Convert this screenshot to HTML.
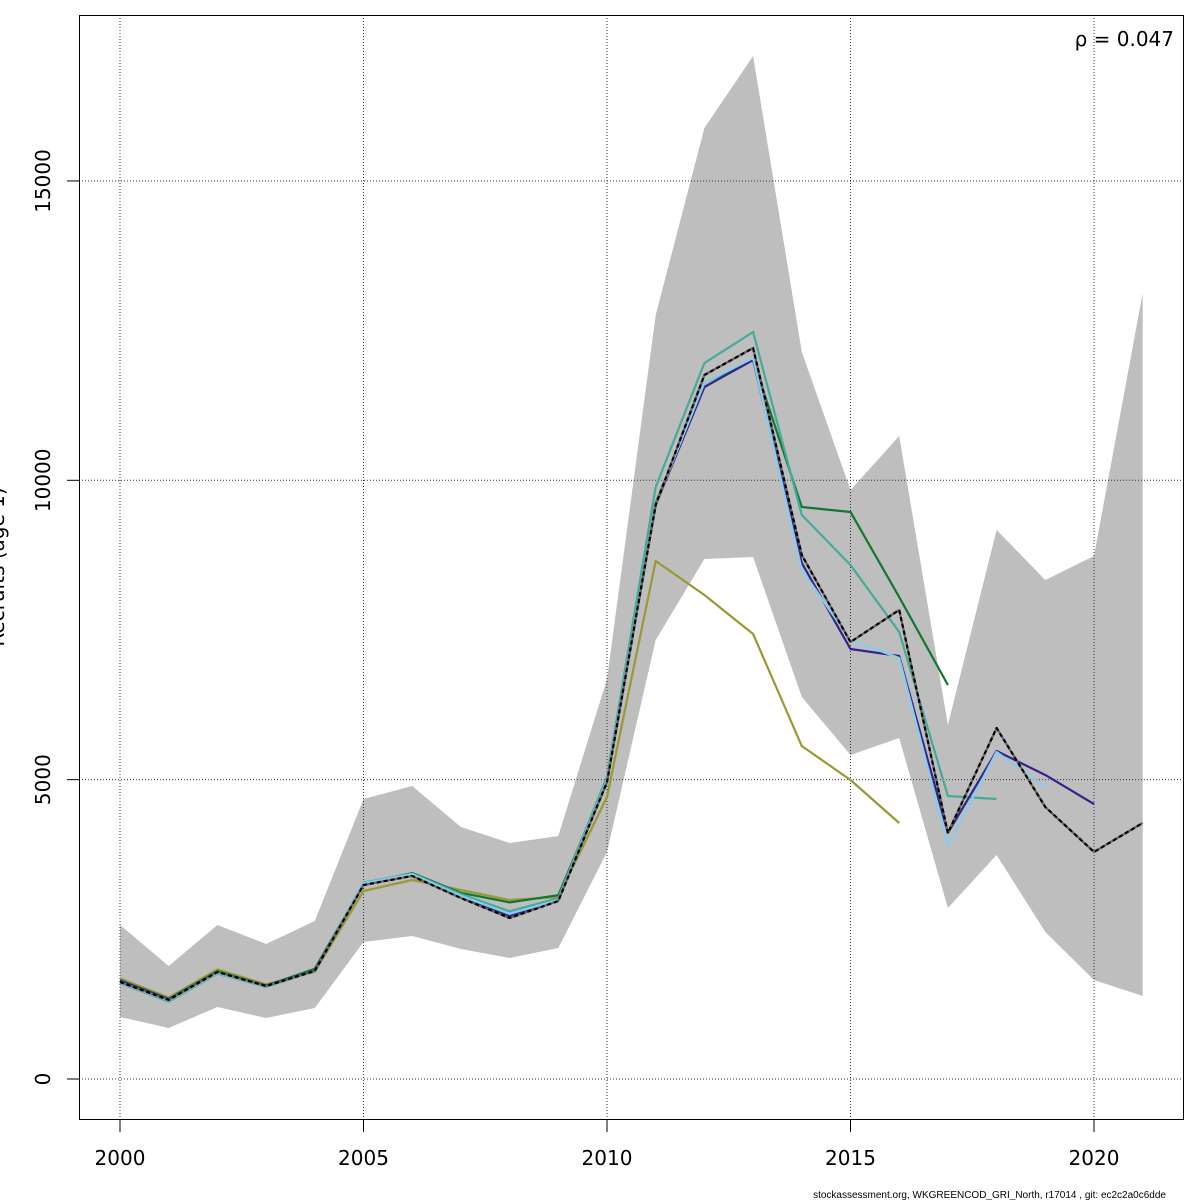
<!DOCTYPE html>
<html><head><meta charset="utf-8"><style>
html,body{margin:0;padding:0;background:#fff;}
svg{display:block;font-family:"DejaVu Sans","Liberation Sans",sans-serif;}
</style></head><body>
<svg id="chart" width="1200" height="1200" viewBox="0 0 1200 1200">
<rect x="0" y="0" width="1200" height="1200" fill="#fff"/>
<g id="band-g"></g><g id="grid-g"></g><g id="lines-g"></g><g id="axes-g"></g>
<rect x="79.5" y="15.5" width="1104" height="1104" fill="none" stroke="#000" stroke-width="1"/>
<text x="1174" y="46" text-anchor="end" font-size="20">ρ = 0.047</text>
<text transform="translate(4,567) rotate(-90)" text-anchor="middle" font-size="20">Recruits (age 1)</text>
<text x="612" y="1216" text-anchor="middle" font-size="20">Year</text>
<text x="1166" y="1198" text-anchor="end" font-size="10" font-family="Liberation Sans, sans-serif">stockassessment.org, WKGREENCOD_GRI_North, r17014 , git: ec2c2a0c6dde</text>
</svg>
<script>
const years = [2000,2001,2002,2003,2004,2005,2006,2007,2008,2009,2010,2011,2012,2013,2014,2015,2016,2017,2018,2019,2020,2021];
const bandHigh = [2572,1887,2572,2255,2639,4677,4894,4209,3942,4059,6681,12761,15884,17086,12143,9838,10740,5913,9170,8335,8736,13128];
const bandLow = [1036,852,1203,1019,1186,2288,2389,2171,2021,2188,3792,7333,8685,8719,6380,5412,5696,2856,3741,2455,1654,1386];
const run2021 = [1620,1320,1787,1553,1804,3240,3391,3023,2689,2973,4961,9587,11759,12210,8752,7299,7834,4109,5863,4543,3792,4276];
const run2020 = [1640,1330,1780,1560,1810,3250,3400,3030,2720,2990,4960,9590,11558,12009,8619,7182,7065,4109,5478,5078,4593];
const run2019 = [1610,1310,1770,1550,1800,3270,3420,3060,2760,2990,4990,9600,11625,12042,8502,7332,7032,3908,5462,4877];
const run2018 = [1600,1290,1760,1540,1800,3280,3430,3090,2800,3020,5050,9888,11959,12477,9420,8585,7466,4727,4677];
const run2017 = [1650,1340,1800,1560,1840,3260,3440,3110,2950,3070,5000,9620,11625,12009,9554,9471,8050,6581];
const run2016 = [1680,1360,1830,1580,1790,3140,3324,3157,2990,3040,4710,8652,8084,7433,5562,4994,4276];
const yTicks = [0,5000,10000,15000];
const xTicks = [2000,2005,2010,2015,2020];
const NS="http://www.w3.org/2000/svg";
function X(yr){return 120+(yr-2000)*48.7;}
function Y(v){return 1079-v*0.05987;}
function mk(tag,attrs,parent){const e=document.createElementNS(NS,tag);for(const k in attrs)e.setAttribute(k,attrs[k]);parent.appendChild(e);return e;}
const bandG=document.getElementById('band-g'),gridG=document.getElementById('grid-g'),linesG=document.getElementById('lines-g'),axesG=document.getElementById('axes-g');
let pts=years.map((y,i)=>X(y)+','+Y(bandHigh[i]));
for(let i=years.length-1;i>=0;i--)pts.push(X(years[i])+','+Y(bandLow[i]));
const band=mk('polygon',{points:pts.join(' '),fill:'#bebebe',stroke:'none'},bandG);


xTicks.forEach(t=>{
  const g=mk('line',{x1:X(t),x2:X(t),y1:15,y2:1120,stroke:'#333','stroke-width':1,'stroke-dasharray':'1,2'},gridG);
  
  
  const tk=mk('line',{x1:X(t),x2:X(t),y1:1120,y2:1132,stroke:'#000'},axesG);
  
  
  const tx=mk('text',{x:X(t),y:1165,'text-anchor':'middle','font-size':20},axesG);tx.textContent=t;
  
  
});
yTicks.forEach(t=>{
  const g=mk('line',{x1:79,x2:1184,y1:Y(t),y2:Y(t),stroke:'#333','stroke-width':1,'stroke-dasharray':'1,2'},gridG);
  
  
  const tk=mk('line',{x1:67,x2:79,y1:Y(t),y2:Y(t),stroke:'#000'},axesG);
  
  
  const tx=mk('text',{transform:'translate(50,'+Y(t)+') rotate(-90)','text-anchor':'middle','font-size':20},axesG);tx.textContent=t;
  
  
});
function line(vals,color,name,dash){
  const p=vals.map((v,i)=>X(years[i])+','+Y(v)).join(' ');
  const l=mk('polyline',{points:p,fill:'none',stroke:color,'stroke-width':2.2,'stroke-linejoin':'round'},linesG);
  if(dash)l.setAttribute('stroke-dasharray',dash);
  
  
}
line(run2016,'#999933','series-2016');
line(run2017,'#117733','series-2017');
line(run2018,'#44AA99','series-2018');
line(run2020,'#332288','series-2020');
line(run2019,'#88CCEE','series-2019');
line(run2021,'#666','series-2021-base');
line(run2021,'#000','series-2021','4,3');
</script>
</body></html>
